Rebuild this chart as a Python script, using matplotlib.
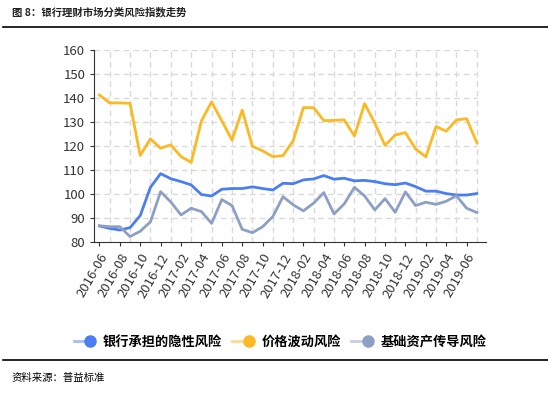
import matplotlib.pyplot as plt
from matplotlib.legend_handler import HandlerTuple
import numpy as np

plt.rcParams['font.family'] = ['Noto Sans CJK SC', 'DejaVu Sans']

# monthly points, 2016-06 .. 2019-07
months = ['2016-06', '2016-07', '2016-08', '2016-09', '2016-10', '2016-11', '2016-12',
          '2017-01', '2017-02', '2017-03', '2017-04', '2017-05', '2017-06', '2017-07',
          '2017-08', '2017-09', '2017-10', '2017-11', '2017-12', '2018-01', '2018-02',
          '2018-03', '2018-04', '2018-05', '2018-06', '2018-07', '2018-08', '2018-09',
          '2018-10', '2018-11', '2018-12', '2019-01', '2019-02', '2019-03', '2019-04',
          '2019-05', '2019-06', '2019-07']

implicit_risk = [86.8, 85.8, 85.1, 86.1, 91.1, 102.9, 108.6, 106.5, 105.3, 103.9,
                 99.9, 99.3, 102.1, 102.4, 102.4, 103.1, 102.4, 101.8, 104.6, 104.4,
                 106.0, 106.4, 107.8, 106.3, 106.7, 105.6, 105.8, 105.3, 104.4, 104.0,
                 104.7, 103.2, 101.3, 101.3, 100.3, 99.7, 99.7, 100.3]
price_risk = [141.4, 138.1, 138.1, 137.9, 116.2, 123.1, 119.2, 120.6, 115.7, 113.3,
              130.6, 138.5, 130.6, 122.6, 135.1, 120.0, 118.1, 115.7, 116.1, 122.4,
              136.1, 136.1, 130.7, 130.8, 131.0, 124.3, 137.8, 129.6, 120.4, 124.7,
              125.7, 118.9, 115.6, 128.2, 126.3, 131.0, 131.5, 121.5]
asset_risk = [86.9, 86.5, 86.5, 82.4, 84.6, 88.5, 101.1, 96.8, 91.4, 94.2,
              92.8, 87.9, 97.8, 95.3, 85.4, 84.0, 86.5, 90.7, 99.0, 95.6,
              93.1, 96.3, 100.7, 91.8, 96.0, 102.9, 99.3, 93.5, 98.2, 92.5,
              101.0, 95.3, 96.7, 95.8, 97.1, 99.4, 94.2, 92.4]

labels = ['银行承担的隐性风险', '价格波动风险', '基础资产传导风险']
colors = ['#4a7ef2', '#fcb923', '#8e9fc6']

fig = plt.figure(figsize=(5.48, 3.97), dpi=100)
W, H = 548, 397

# title and rules
fig.text(12 / W, 1 - 12 / H, '图 8：银行理财市场分类风险指数走势', fontsize=7.5,
         fontweight='bold', va='center', ha='left', color='#222222')
fig.add_artist(plt.Line2D([3 / W, 1], [1 - 27 / H] * 2, color='black', lw=1.2))
fig.add_artist(plt.Line2D([3 / W, 1], [1 - 360 / H] * 2, color='black', lw=1.2))
fig.text(12 / W, 1 - 378 / H, '资料来源：普益标准', fontsize=7.5,
         va='center', ha='left', color='black')

ax = fig.add_axes([94.3 / W, 1 - 242.3 / H, (486 - 94.3) / W, (242.3 - 50.3) / H])
x = np.arange(len(months))

for ys, lab, c in zip([implicit_risk, price_risk, asset_risk], labels, colors):
    ax.plot(x, ys, color=c, lw=2, label=lab)

ax.set_xlim(-0.5, len(months) - 0.1)
ax.set_ylim(80, 160)
ax.set_yticks(range(80, 161, 10))
ax.set_xticks(x[::2])
ax.set_xticklabels(months[::2], rotation=60, ha='right', rotation_mode='anchor',
                   fontsize=9.5, color='#333333')
ax.tick_params(axis='y', labelsize=9.5, labelcolor='#333333', length=3, color='#333333')
ax.tick_params(axis='x', length=3, color='#333333')

# dashed grid: horizontals at y ticks, verticals between labels
for yv in range(90, 161, 10):
    ax.plot([-0.5, 37], [yv, yv], color='#d9d9d9', lw=1, ls=(0, (4, 3)), zorder=0)
for xv in x[1::2]:
    ax.plot([xv, xv], [80, 160], color='#d9d9d9', lw=1, ls=(0, (4, 3)), zorder=0)

for s in ['top', 'right']:
    ax.spines[s].set_visible(False)
ax.spines['left'].set_color('#333333')
ax.spines['bottom'].set_color('#333333')

# legend: faded line + solid dot
handles = []
for c in colors:
    ln = plt.Line2D([], [], color=c, lw=2, alpha=0.5)
    dot = plt.Line2D([], [], color=c, lw=0, marker='o', markersize=8)
    handles.append((ln, dot))
fig.legend(handles, labels, loc='center', bbox_to_anchor=(280 / W, 1 - 342 / H),
           ncol=3, frameon=False, handlelength=1.7, columnspacing=0.8,
           handletextpad=0.5, handler_map={tuple: HandlerTuple(ndivide=None, pad=0)},
           prop={'weight': 'bold', 'size': 9.5})

fig.savefig('out.png', dpi=100)
